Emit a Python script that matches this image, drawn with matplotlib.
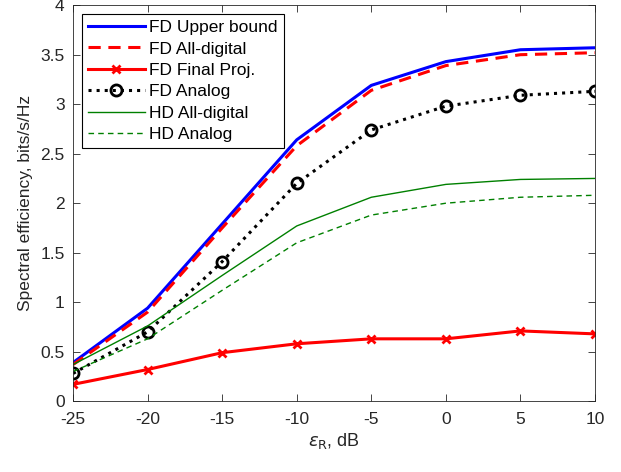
import matplotlib
matplotlib.use('Agg')
import matplotlib.pyplot as plt

plt.rcParams['font.family'] = ['Liberation Sans', 'DejaVu Sans']
plt.rcParams['mathtext.fontset'] = 'dejavusans'

snr_db = [-25, -20, -15, -10, -5, 0, 5, 10]
fd_upper = [0.39, 0.94, 1.79, 2.64, 3.19, 3.43, 3.55, 3.57]
fd_digital = [0.37, 0.90, 1.75, 2.58, 3.14, 3.39, 3.50, 3.52]
fd_final_proj = [0.17, 0.32, 0.49, 0.58, 0.63, 0.63, 0.71, 0.68]
fd_analog = [0.28, 0.70, 1.41, 2.20, 2.74, 2.98, 3.09, 3.13]
hd_digital = [0.37, 0.76, 1.27, 1.77, 2.06, 2.19, 2.24, 2.25]
hd_analog = [0.30, 0.63, 1.12, 1.60, 1.88, 2.00, 2.06, 2.08]

fig = plt.figure(figsize=(6.21, 4.72), dpi=100)
ax = fig.add_axes([0.1176, 0.150, 0.8405, 0.839])

ax.plot(snr_db, fd_upper, color='#0000ff', lw=2.2, label='FD Upper bound')
ax.plot(snr_db, fd_digital, color='#ff0000', lw=2.2, ls=(0, (4, 2.5)), label='FD All-digital')
ax.plot(snr_db, fd_final_proj, color='#ff0000', lw=2.2, marker='x', ms=6, mew=2,
        label='FD Final Proj.')
ax.plot(snr_db, fd_analog, color='black', lw=2.2, ls=':', marker='o', ms=8, mew=2,
        mfc='none', label='FD Analog')
ax.plot(snr_db, hd_digital, color='#008000', lw=1.0, label='HD All-digital')
ax.plot(snr_db, hd_analog, color='#008000', lw=1.0, ls=(0, (4, 3)), label='HD Analog')

ax.set_xlim(-25, 10)
ax.set_ylim(0, 4)
ax.set_xticks(snr_db)
ax.set_xticklabels([str(v) for v in snr_db])
ax.set_yticks([0, 0.5, 1, 1.5, 2, 2.5, 3, 3.5, 4])
ax.set_yticklabels(['0', '0.5', '1', '1.5', '2', '2.5', '3', '3.5', '4'])
ax.tick_params(direction='in', top=True, right=True, labelsize=12.5, colors='#262626',
               length=5, width=0.6)
ax.tick_params(axis='x', pad=8)
ax.tick_params(axis='y', pad=6)
for sp in ax.spines.values():
    sp.set_color('#262626')
    sp.set_linewidth(0.6)

ax.set_xlabel(r'$\epsilon_{\mathrm{R}}$, dB', fontsize=13, color='#262626', labelpad=3)
ax.set_ylabel('Spectral efficiency, bits/s/Hz', fontsize=12.5, color='#262626', labelpad=5)

leg = ax.legend(loc='upper left', fontsize=12.5, handlelength=3.3, fancybox=False,
                framealpha=1, edgecolor='black', borderpad=0.35, labelspacing=0.36,
                handletextpad=0.25, borderaxespad=0.5)
leg.get_frame().set_linewidth(0.8)

fig.savefig('out.png', dpi=100)
